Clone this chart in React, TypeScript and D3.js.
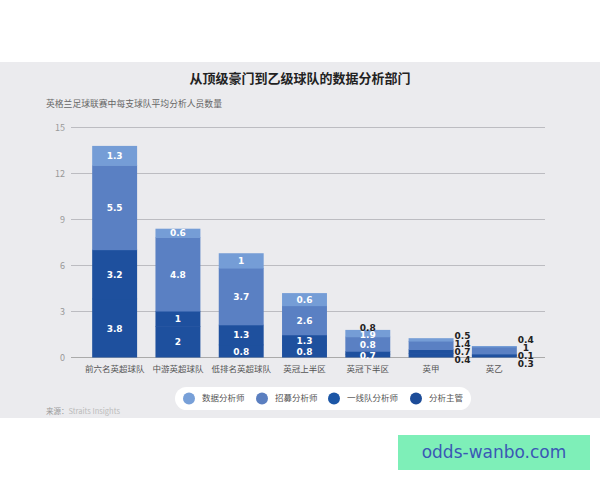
import React from "react";
import * as d3 from "d3";

const categories = ["前六名英超球队", "中游英超球队", "低排名英超球队", "英冠上半区", "英冠下半区", "英甲", "英乙"];
const seriesNames = ["分析主管", "一线队分析师", "招募分析师", "数据分析师"];
// segment heights as drawn (bottom to top)
const headValues = [3.8, 2, 0.8, 0.75, 0.2, 0.25, 0.1];
const firstTeamValues = [3.2, 1, 1.3, 0.7, 0.18, 0.24, 0.1];
const recruitValues = [5.5, 4.8, 3.7, 1.9, 0.94, 0.55, 0.46];
const dataValues = [1.3, 0.6, 1, 0.85, 0.48, 0.22, 0.09];
// printed labels
const headLabels = ["3.8", "2", "0.8", "0.8", "0.7", "0.4", "0.3"];
const firstTeamLabels = ["3.2", "1", "1.3", "1.3", "0.8", "0.7", "0.1"];
const recruitLabels = ["5.5", "4.8", "3.7", "2.6", "1.9", "1.4", "1"];
const dataLabels = ["1.3", "0.6", "1", "0.6", "0.8", "0.5", "0.4"];
const labelModes = ["inside", "inside", "inside", "inside", "inside", "right", "right"];
const yTicks = [0, 3, 6, 9, 12, 15];
const legendNames = ["数据分析师", "招募分析师", "一线队分析师", "分析主管"];

const barColors: Record<string, string> = {
  "分析主管": "#1e509e",
  "一线队分析师": "#1e509e",
  "招募分析师": "#5a80c3",
  "数据分析师": "#759dd6",
};
const legendColors: Record<string, string> = {
  "分析主管": "#1d4c98",
  "一线队分析师": "#1c56a6",
  "招募分析师": "#5b7fc0",
  "数据分析师": "#78a0d8",
};

const W = 600, H = 480;
const FONT = "'Noto Sans CJK SC', 'Noto Sans', sans-serif";

export default function App() {
  const x = d3.scaleBand<string>().domain(categories).range([83, 526]).paddingInner(0.29).paddingOuter(0.145);
  const y = d3.scaleLinear().domain([0, 15]).range([357.5, 127.5]);

  const table = categories.map((c, i) => ({
    cat: c,
    "分析主管": headValues[i],
    "一线队分析师": firstTeamValues[i],
    "招募分析师": recruitValues[i],
    "数据分析师": dataValues[i],
  }));
  const labelSets = [headLabels, firstTeamLabels, recruitLabels, dataLabels];
  const stacked = d3.stack<any>().keys(seriesNames)(table);

  const bars: JSX.Element[] = [];
  const labels: JSX.Element[] = [];
  categories.forEach((c, i) => {
    const x0 = x(c)!;
    const bw = x.bandwidth();
    stacked.forEach((s, k) => {
      const [a, b] = s[i];
      const ext = k < 3 ? 0.6 : 0;
      bars.push(
        <rect key={`b${i}-${k}`} x={x0} y={y(b) - ext} width={bw} height={Math.max(0, y(a) - y(b)) + ext} fill={barColors[seriesNames[k]]} />
      );
    });
    const top = y(stacked[stacked.length - 1][i][1]);
    if (labelModes[i] === "inside") {
      let prev = Infinity;
      stacked.forEach((s, k) => {
        const [a, b] = s[i];
        let cy = (y(a) + y(b)) / 2;
        cy = Math.min(cy, prev - 10.8);
        let fill = "#ffffff";
        if (cy < top + 4) {
          cy = top - 2;
          fill = "#222";
        }
        prev = cy;
        labels.push(
          <text key={`l${i}-${k}`} x={x0 + bw / 2} y={cy} dy="0.35em" textAnchor="middle" fontSize={9} fontWeight={700} fill={fill} fontFamily="'DejaVu Sans', sans-serif">
            {labelSets[k][i]}
          </text>
        );
      });
    } else {
      const bottom = y(0);
      const mid = (top + bottom) / 2;
      const n = seriesNames.length;
      for (let k = n - 1; k >= 0; k--) {
        const row = n - 1 - k;
        const cy = mid + (row - (n - 1) / 2) * 7.9;
        labels.push(
          <text key={`r${i}-${k}`} x={x0 + bw + 9} y={cy} dy="0.35em" textAnchor="middle" fontSize={9} fontWeight={700} fill="#222" fontFamily="'DejaVu Sans', sans-serif">
            {labelSets[k][i]}
          </text>
        );
      }
    }
  });

  const legendX = [189, 262, 334, 416];

  return (
    <svg width={W} height={H} style={{ position: "absolute", left: 0, top: 0 }} fontFamily={FONT}>
      <rect x={0} y={0} width={W} height={H} fill="#ffffff" />
      <rect x={0} y={62} width={W} height={356} fill="#ebebee" />
      <text x={300} y={83} textAnchor="middle" fontSize={13} fontWeight={700} fill="#222">从顶级豪门到乙级球队的数据分析部门</text>
      <text x={46} y={107} fontSize={8.8} fill="#666">英格兰足球联赛中每支球队平均分析人员数量</text>
      {yTicks.map((t) => (
        <g key={t}>
          <line x1={71} x2={545} y1={y(t)} y2={y(t)} stroke={t === 0 ? "#aaaaaa" : "#bcbcc1"} strokeWidth={1} />
          <text x={65} y={y(t)} dy="0.35em" textAnchor="end" fontSize={9} fill="#999">{t}</text>
        </g>
      ))}
      {bars}
      {labels}
      {categories.map((c) => (
        <text key={c} x={x(c)! + x.bandwidth() / 2} y={369.5} dy="0.35em" textAnchor="middle" fontSize={8.5} fill="#555">{c}</text>
      ))}
      <rect x={175} y={387} width={296} height={23} rx={11.5} fill="#ffffff" />
      {legendNames.map((n, i) => (
        <g key={n}>
          <circle cx={legendX[i]} cy={398.5} r={6} fill={legendColors[n]} />
          <text x={legendX[i] + 13} y={398.5} dy="0.35em" fontSize={8.5} fill="#555">{n}</text>
        </g>
      ))}
      <text x={46} y={411} dy="0.35em" fontSize={7.5} fill="#aaa">
        <tspan fill="#999">来源：</tspan>
        <tspan fill="#bbb">Straits Insights</tspan>
      </text>
      <rect x={398} y={435} width={192} height={35} fill="#7eefb8" />
      <text x={494} y={452.5} dy="0.35em" textAnchor="middle" fontSize={17} fill="#3a58b5" fontFamily="'DejaVu Sans', sans-serif">odds-wanbo.com</text>
    </svg>
  );
}
